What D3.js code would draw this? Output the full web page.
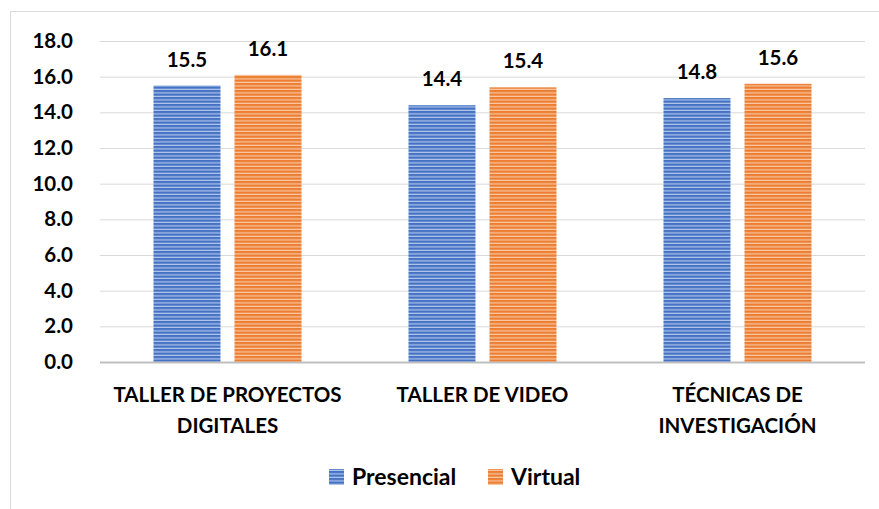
<!DOCTYPE html>
<html lang="es">
<head>
    <meta charset="UTF-8">
    <title>Promedio por curso</title>
    <script src="https://d3js.org/d3.v7.min.js"></script>
    <style>
        body { margin: 0; background: #fff; font-family: Lato, "Open Sans", sans-serif; }
        text { font-weight: bold; fill: #000; }
    </style>
</head>
<body>
    <div id="chart"></div>
    <script>
        // Datos
        const cursos = [["TALLER DE PROYECTOS", "DIGITALES"], ["TALLER DE VIDEO"], ["TÉCNICAS DE", "INVESTIGACIÓN"]];
        const series = ["Presencial", "Virtual"];
        const presencial = [15.5, 14.4, 14.8];
        const virtual = [16.1, 15.4, 15.6];
        const yTicks = [0, 2, 4, 6, 8, 10, 12, 14, 16, 18];

        const colores = { Presencial: ["#4472C4", "#B4C7EA"], Virtual: ["#ED7D31", "#F8C8A6"] };

        const W = 879, H = 509;
        const margin = { top: 41, left: 100, right: 14, bottom: 147 };
        const width = W - margin.left - margin.right,
              height = H - margin.top - margin.bottom;

        const svg = d3.select("#chart").append("svg")
            .attr("width", W).attr("height", H);

        // patrones de rayas horizontales
        const defs = svg.append("defs");
        series.forEach(s => {
            const p = defs.append("pattern")
                .attr("id", "pat-" + s)
                .attr("patternUnits", "userSpaceOnUse")
                .attr("width", 8).attr("height", 3.5);
            p.append("rect").attr("width", 8).attr("height", 3.5).attr("fill", colores[s][1]);
            p.append("rect").attr("width", 8).attr("height", 2.3).attr("fill", colores[s][0]);
        });

        // borde del gráfico
        svg.append("rect")
            .attr("x", 10.5).attr("y", 11.5)
            .attr("width", W).attr("height", H)
            .attr("fill", "none").attr("stroke", "#d9d9d9");

        const g = svg.append("g").attr("transform", `translate(${margin.left},${margin.top})`);

        const x = d3.scaleBand().domain(d3.range(cursos.length)).range([0, width]);
        const x1 = d3.scaleBand().domain(series).range([0, 148]).paddingInner(0.173);
        const y = d3.scaleLinear().domain([0, 18]).range([height, 0]);

        // líneas de cuadrícula
        g.selectAll(".grid").data(yTicks.filter(t => t > 0)).enter().append("line")
            .attr("x1", 0).attr("x2", width)
            .attr("y1", d => y(d) + 0.5).attr("y2", d => y(d) + 0.5)
            .attr("stroke", "#d9d9d9").attr("stroke-width", 1);

        // eje Y
        const yAxis = g.append("g").call(d3.axisLeft(y).tickValues(yTicks).tickFormat(d3.format(".1f")).tickSize(0).tickPadding(27));
        yAxis.select(".domain").remove();
        yAxis.selectAll("text").attr("font-size", 20.5).attr("font-family", "Lato, sans-serif").attr("font-weight", "bold").attr("fill", "#000");

        const datos = cursos.map((c, i) => ({ i, vals: [presencial[i], virtual[i]] }));

        const grupos = g.selectAll(".grupo").data(datos).enter().append("g")
            .attr("transform", d => `translate(${x(d.i) + (x.bandwidth() - 148) / 2},0)`);

        grupos.selectAll("rect").data(d => d.vals.map((v, k) => ({ s: series[k], v }))).enter().append("rect")
            .attr("x", d => x1(d.s)).attr("width", x1.bandwidth())
            .attr("y", d => y(d.v)).attr("height", d => y(0) - y(d.v))
            .attr("fill", d => `url(#pat-${d.s})`);

        grupos.selectAll(".val").data(d => d.vals.map((v, k) => ({ s: series[k], v }))).enter().append("text")
            .attr("x", d => x1(d.s) + x1.bandwidth() / 2)
            .attr("y", d => y(d.v) - 19)
            .attr("text-anchor", "middle").attr("font-size", 20.5)
            .text(d => d.v.toFixed(1));

        // línea base
        g.append("line").attr("x1", 0).attr("x2", width)
            .attr("y1", y(0) + 0.5).attr("y2", y(0) + 0.5)
            .attr("stroke", "#bfbfbf").attr("stroke-width", 2);

        // etiquetas de categoría
        const cat = g.selectAll(".cat").data(cursos).enter().append("text")
            .attr("text-anchor", "middle").attr("font-size", 20.5)
            .attr("transform", (d, i) => `translate(${x(i) + x.bandwidth() / 2},${height + 40})`);
        cat.selectAll("tspan").data(d => d).enter().append("tspan")
            .attr("x", 0).attr("dy", (d, k) => k === 0 ? 0 : 31).text(d => d);

        // leyenda
        const leg = svg.append("g").attr("transform", "translate(329,485)");
        const offs = [0, 159];
        series.forEach((s, k) => {
            const it = leg.append("g").attr("transform", `translate(${offs[k]},0)`);
            it.append("rect").attr("x", 0).attr("y", -16).attr("width", 15).attr("height", 16)
                .attr("fill", `url(#pat-${s})`);
            it.append("text").attr("x", 23).attr("y", 0).attr("font-size", 23).text(s);
        });
    </script>
</body>
</html>
